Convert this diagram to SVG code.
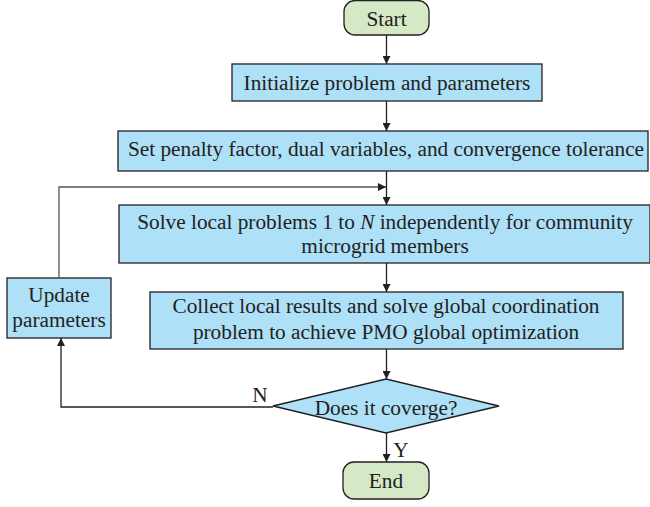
<svg xmlns="http://www.w3.org/2000/svg" width="650" height="507" viewBox="0 0 650 507">
<style>
.box{fill:#aee0f8;stroke:#231f20;stroke-width:1.3}
.term{fill:#d5e9c6;stroke:#231f20;stroke-width:1.3}
.t{font-family:"Liberation Serif","Times New Roman",serif;font-size:21.3px;fill:#231f20;text-anchor:middle}
.c{fill:none;stroke:#231f20;stroke-width:1.3}
</style>
<defs>
<marker id="ah" viewBox="0 0 10 10" refX="10" refY="5" markerWidth="8" markerHeight="8" markerUnits="userSpaceOnUse" orient="auto">
<path d="M0,0 L10,5 L0,10 z" fill="#231f20"/>
</marker>
</defs>
<rect width="650" height="507" fill="#fff"/>
<g id="start"><rect class="term" x="344" y="0.5" width="85" height="34.5" rx="11"/><text class="t" x="386.5" y="26">Start</text></g>
<g id="init"><rect class="box" x="232" y="64" width="310" height="37"/><text class="t" x="387" y="90">Initialize problem and parameters</text></g>
<g id="penalty"><rect class="box" x="118" y="131" width="530" height="40"/><text class="t" x="386" y="156">Set penalty factor, dual variables, and convergence tolerance</text></g>
<g id="solve"><rect class="box" x="119" y="205" width="531" height="58"/><text class="t" x="385" y="229">Solve local problems 1 to <tspan font-style="italic">N</tspan> independently for community</text><text class="t" x="385" y="253">microgrid members</text></g>
<g id="collect"><rect class="box" x="150" y="292" width="473" height="57"/><text class="t" x="386" y="313">Collect local results and solve global coordination</text><text class="t" x="386" y="339">problem to achieve PMO global optimization</text></g>
<g id="update"><rect class="box" x="7" y="278" width="104" height="60"/><text class="t" x="59" y="302">Update</text><text class="t" x="59" y="327">parameters</text></g>
<g id="decision"><polygon class="box" points="273,406 386,379 499,406 386,433"/><text class="t" x="386" y="415">Does it coverge?</text></g>
<g id="end"><rect class="term" x="343" y="462" width="86" height="37" rx="11"/><text class="t" x="386" y="488">End</text></g>
<g id="connectors">
<line class="c" x1="386.5" y1="35" x2="386.5" y2="64" marker-end="url(#ah)"/>
<line class="c" x1="386.5" y1="101" x2="386.5" y2="131" marker-end="url(#ah)"/>
<line class="c" x1="386.5" y1="171" x2="386.5" y2="205" marker-end="url(#ah)"/>
<polyline class="c" points="59,278 59,187 386,187" marker-end="url(#ah)" style="stroke:#555"/>
<line class="c" x1="386.5" y1="263" x2="386.5" y2="292" marker-end="url(#ah)"/>
<line class="c" x1="386.5" y1="349" x2="386.5" y2="379" marker-end="url(#ah)"/>
<polyline class="c" points="273,407 61,407 61,338" marker-end="url(#ah)"/>
<line class="c" x1="386.5" y1="433" x2="386.5" y2="462" marker-end="url(#ah)"/>
<text class="t" x="260" y="402">N</text>
<text class="t" x="401" y="457">Y</text>
</g>
</svg>
